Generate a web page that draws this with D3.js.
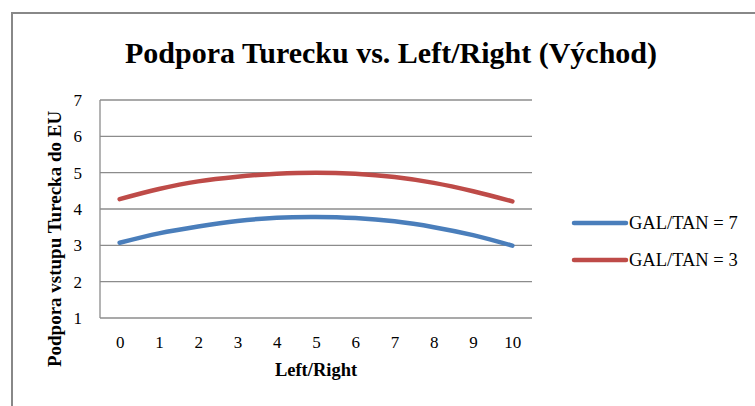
<!DOCTYPE html>
<html>
<head>
<meta charset="utf-8">
<script src="https://cdn.jsdelivr.net/npm/d3@7"></script>
<style>
  body { margin: 0; background: #fff; }
  svg text { font-family: "Times New Roman", "Liberation Serif", Times, serif; fill: #000; }
</style>
</head>
<body>
<div id="vis"></div>
<script>
var categories = [0, 1, 2, 3, 4, 5, 6, 7, 8, 9, 10];
var seriesNames = ['GAL/TAN = 7', 'GAL/TAN = 3'];
var gal7 = [3.07, 3.33, 3.52, 3.67, 3.76, 3.78, 3.75, 3.66, 3.50, 3.28, 2.99];
var gal3 = [4.27, 4.55, 4.76, 4.89, 4.97, 5.00, 4.97, 4.88, 4.72, 4.49, 4.21];
var yTicks = [1, 2, 3, 4, 5, 6, 7];
var colors = ['#4a7ebb', '#be4b48'];

var serif = '"Times New Roman", "Liberation Serif", Times, serif';

var width = 755;
var height = 406;

var margin = { top: 100, left: 100, right: 223, bottom: 88 };
var drawWidth = width - margin.left - margin.right;
var drawHeight = height - margin.top - margin.bottom;

var svg = d3.select('#vis')
            .append('svg')
            .attr('width', width)
            .attr('height', height);

// outer chart frame
svg.append('rect')
    .attr('x', 12)
    .attr('y', 13)
    .attr('width', width)
    .attr('height', height)
    .attr('fill', 'none')
    .attr('stroke', '#888')
    .attr('stroke-width', 2);

var g = svg.append('g')
            .attr('transform', 'translate(' + margin.left + ', ' + margin.top + ')');

var xScale = d3.scalePoint()
                .domain(categories)
                .range([0, drawWidth])
                .padding(0.5);

var yScale = d3.scaleLinear()
                .domain([1, 7])
                .range([drawHeight, 0]);

// gridlines
g.selectAll('.grid')
    .data(yTicks)
    .enter()
    .append('line')
    .attr('x1', 0)
    .attr('x2', drawWidth)
    .attr('y1', function(d) { return yScale(d); })
    .attr('y2', function(d) { return yScale(d); })
    .attr('stroke', '#8c8c8c')
    .attr('stroke-width', 1.3);

// y axis line
g.append('line')
    .attr('x1', 0).attr('x2', 0)
    .attr('y1', 0).attr('y2', drawHeight)
    .attr('stroke', '#8c8c8c')
    .attr('stroke-width', 1.3);

var yAxis = d3.axisLeft(yScale).tickValues(yTicks).tickFormat(d3.format('d')).tickSize(0).tickPadding(18);
g.append('g')
    .call(yAxis)
    .attr('font-family', serif)
    .attr('font-size', 17)
    .call(function(a) { a.select('.domain').remove(); });

var xAxis = d3.axisBottom(xScale).tickSize(0).tickPadding(18);
g.append('g')
    .attr('transform', 'translate(0, ' + drawHeight + ')')
    .call(xAxis)
    .attr('font-family', serif)
    .attr('font-size', 17)
    .call(function(a) { a.select('.domain').remove(); });

var line = d3.line()
    .x(function(d, i) { return xScale(categories[i]); })
    .y(function(d) { return yScale(d); })
    .curve(d3.curveCatmullRom.alpha(0.5));

[gal7, gal3].forEach(function(s, i) {
    g.append('path')
        .datum(s)
        .attr('d', line)
        .attr('fill', 'none')
        .attr('stroke', colors[i])
        .attr('stroke-width', 4.5)
        .attr('stroke-linecap', 'round');
});

// title
svg.append('text')
    .attr('x', 391)
    .attr('y', 63)
    .attr('text-anchor', 'middle')
    .attr('font-family', serif)
    .attr('font-size', 30)
    .attr('font-weight', 'bold')
    .text('Podpora Turecku vs. Left/Right (Východ)');

// axis titles
svg.append('text')
    .attr('x', 316)
    .attr('y', 376)
    .attr('text-anchor', 'middle')
    .attr('font-family', serif)
    .attr('font-size', 18.5)
    .attr('font-weight', 'bold')
    .text('Left/Right');

svg.append('text')
    .attr('transform', 'translate(61, 239) rotate(-90)')
    .attr('text-anchor', 'middle')
    .attr('font-family', serif)
    .attr('font-size', 19)
    .attr('font-weight', 'bold')
    .text('Podpora vstupu Turecka do EU');

// legend
var legend = svg.append('g').attr('transform', 'translate(572, 223)');
seriesNames.forEach(function(name, i) {
    var row = legend.append('g').attr('transform', 'translate(0, ' + (i * 37) + ')');
    row.append('line')
        .attr('x1', 2).attr('x2', 54)
        .attr('y1', 0).attr('y2', 0)
        .attr('stroke', colors[i])
        .attr('stroke-width', 4.5)
        .attr('stroke-linecap', 'round');
    row.append('text')
        .attr('x', 57)
        .attr('y', 6)
        .attr('font-family', serif)
        .attr('font-size', 18.5)
        .text(name);
});
</script>
</body>
</html>
